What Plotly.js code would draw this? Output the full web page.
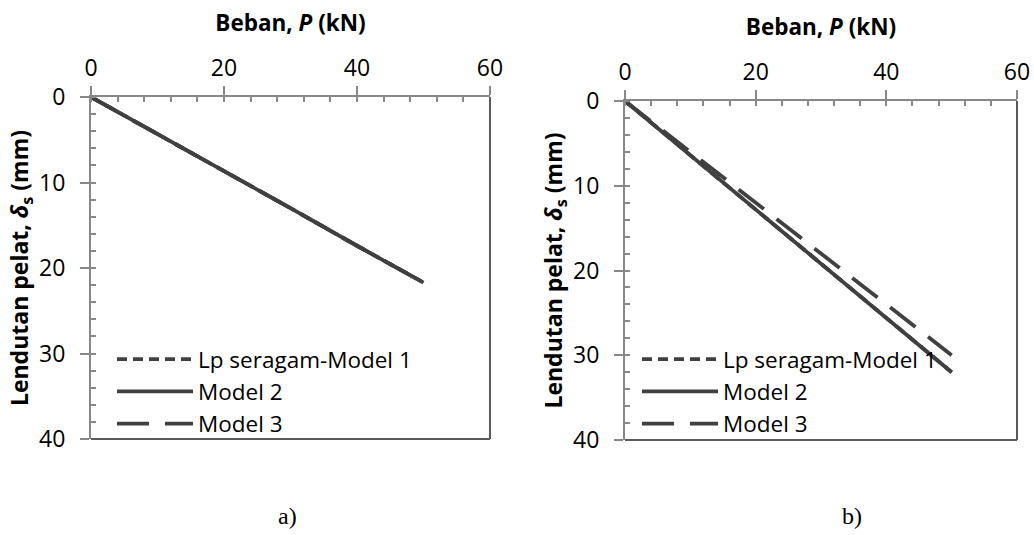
<!DOCTYPE html>
<html>
<head>
<meta charset="utf-8">
<script src="https://cdn.plot.ly/plotly-3.0.1.min.js"></script>
<style>html,body{margin:0;padding:0;background:#fff;}#chart{width:1034px;height:535px;}</style>
</head>
<body>
<div id="chart"></div>
<script>
// ---- data ----
var seriesNames = ["Lp seragam-Model 1", "Model 2", "Model 3"];
var loadP = [0, 10, 20, 30, 40, 50];
// panel a)
var aModel1 = [0, 4.3, 8.7, 13.0, 17.4, 21.7];
var aModel2 = [0, 4.3, 8.7, 13.0, 17.4, 21.7];
var aModel3 = [0, 4.3, 8.7, 13.0, 17.4, 21.7];
// panel b)
var bModel1 = [0, 6.4, 12.8, 19.2, 25.6, 32.0];
var bModel2 = [0, 6.4, 12.8, 19.2, 25.6, 32.0];
var bModel3 = [0, 6.0, 12.0, 18.0, 24.0, 30.0];
var xTicks = [0, 20, 40, 60];
var yTicks = [0, 10, 20, 30, 40];
var captions = ["a)", "b)"];

// ---- style ----
var W = 1034, H = 535;
var FONT = "Open Sans, Noto Sans, sans-serif";
var lineCol = "#404040";
var axCol = "#888888";
var borderCol = "#5a5a5a";
var dashes = ["10px,6px", "solid", "32px,16px"];

function px2x(p){return p / W;}
function px2y(p){return 1 - p / H;}

var panels = [
  {xd:[px2x(91), px2x(490)], yd:[px2y(439), px2y(97)], data:[aModel1, aModel2, aModel3], legend:"legend", lx:px2x(112), cx:287},
  {xd:[px2x(625), px2x(1017)], yd:[px2y(440), px2y(101)], data:[bModel1, bModel2, bModel3], legend:"legend2", lx:px2x(637), cx:852}
];

var traces = [];
var layout = {
  width: W, height: H,
  margin: {l:0, r:0, t:0, b:0},
  paper_bgcolor: "#fff", plot_bgcolor: "#fff",
  font: {family: FONT, color: "#000", size: 22},
  shapes: [], annotations: []
};

panels.forEach(function(pn, i){
  var sfx = i === 0 ? "" : "2";
  var xa = "x" + sfx, ya = "y" + sfx;
  pn.data.forEach(function(vals, k){
    traces.push({
      type: "scatter", mode: "lines",
      x: loadP, y: vals, name: seriesNames[k],
      xaxis: xa, yaxis: ya, legend: pn.legend,
      line: {color: lineCol, width: 3.8, dash: dashes[k]},
      hoverinfo: "skip"
    });
  });
  layout["xaxis" + sfx] = {
    domain: pn.xd, anchor: ya, side: "top", range: [0, 60],
    tickvals: xTicks, ticktext: xTicks.map(String),
    ticks: "outside", ticklen: 9, tickwidth: 2, tickcolor: axCol,
    ticklabelstandoff: 1,
    minor: {dtick: 4, ticks: "inside", ticklen: 5, tickwidth: 2, tickcolor: axCol},
    showline: true, linecolor: axCol, linewidth: 2,
    showgrid: false, zeroline: false,
    tickfont: {size: 23, family: FONT},
    title: {text: "<b>Beban, <i>P</i> (kN)</b>", font: {size: 22.5, family: FONT}, standoff: 13},
    automargin: false, fixedrange: true
  };
  layout["yaxis" + sfx] = {
    domain: pn.yd, anchor: xa, range: [40, 0],
    tickvals: yTicks, ticktext: yTicks.map(String),
    ticks: "outside", ticklen: 9, tickwidth: 2, tickcolor: axCol,
    ticklabelstandoff: 10,
    minor: {dtick: 2, ticks: "inside", ticklen: 5, tickwidth: 2, tickcolor: axCol},
    showline: true, linecolor: axCol, linewidth: 2,
    showgrid: false, zeroline: false,
    tickfont: {size: 23, family: FONT},
    title: {text: "<b>Lendutan pelat, <i>δ</i><sub>s</sub> (mm)</b>", font: {size: 23, family: FONT}, standoff: 4},
    automargin: false, fixedrange: true
  };
  // right and bottom frame
  layout.shapes.push({type:"line", xref: xa + " domain", yref: ya + " domain", x0:1, x1:1, y0:0, y1:1, line:{color:borderCol, width:2}});
  layout.shapes.push({type:"line", xref: xa + " domain", yref: ya + " domain", x0:0, x1:1, y0:0, y1:0, line:{color:borderCol, width:2}});
  layout[pn.legend] = {
    x: pn.lx, y: px2y(338), xanchor: "left", yanchor: "top",
    bgcolor: "rgba(0,0,0,0)", borderwidth: 0,
    font: {size: 22.5, family: FONT, color: "#000"},
    itemwidth: 76, tracegroupgap: 0
  };
  layout.annotations.push({
    text: captions[i], xref: "paper", yref: "paper",
    x: px2x(pn.cx), y: px2y(516), xanchor: "center", yanchor: "middle",
    showarrow: false, font: {family: "Liberation Serif, Times New Roman, serif", size: 24, color: "#000"}
  });
});

Plotly.newPlot("chart", traces, layout, {displayModeBar: false, staticPlot: true});
</script>
</body>
</html>
